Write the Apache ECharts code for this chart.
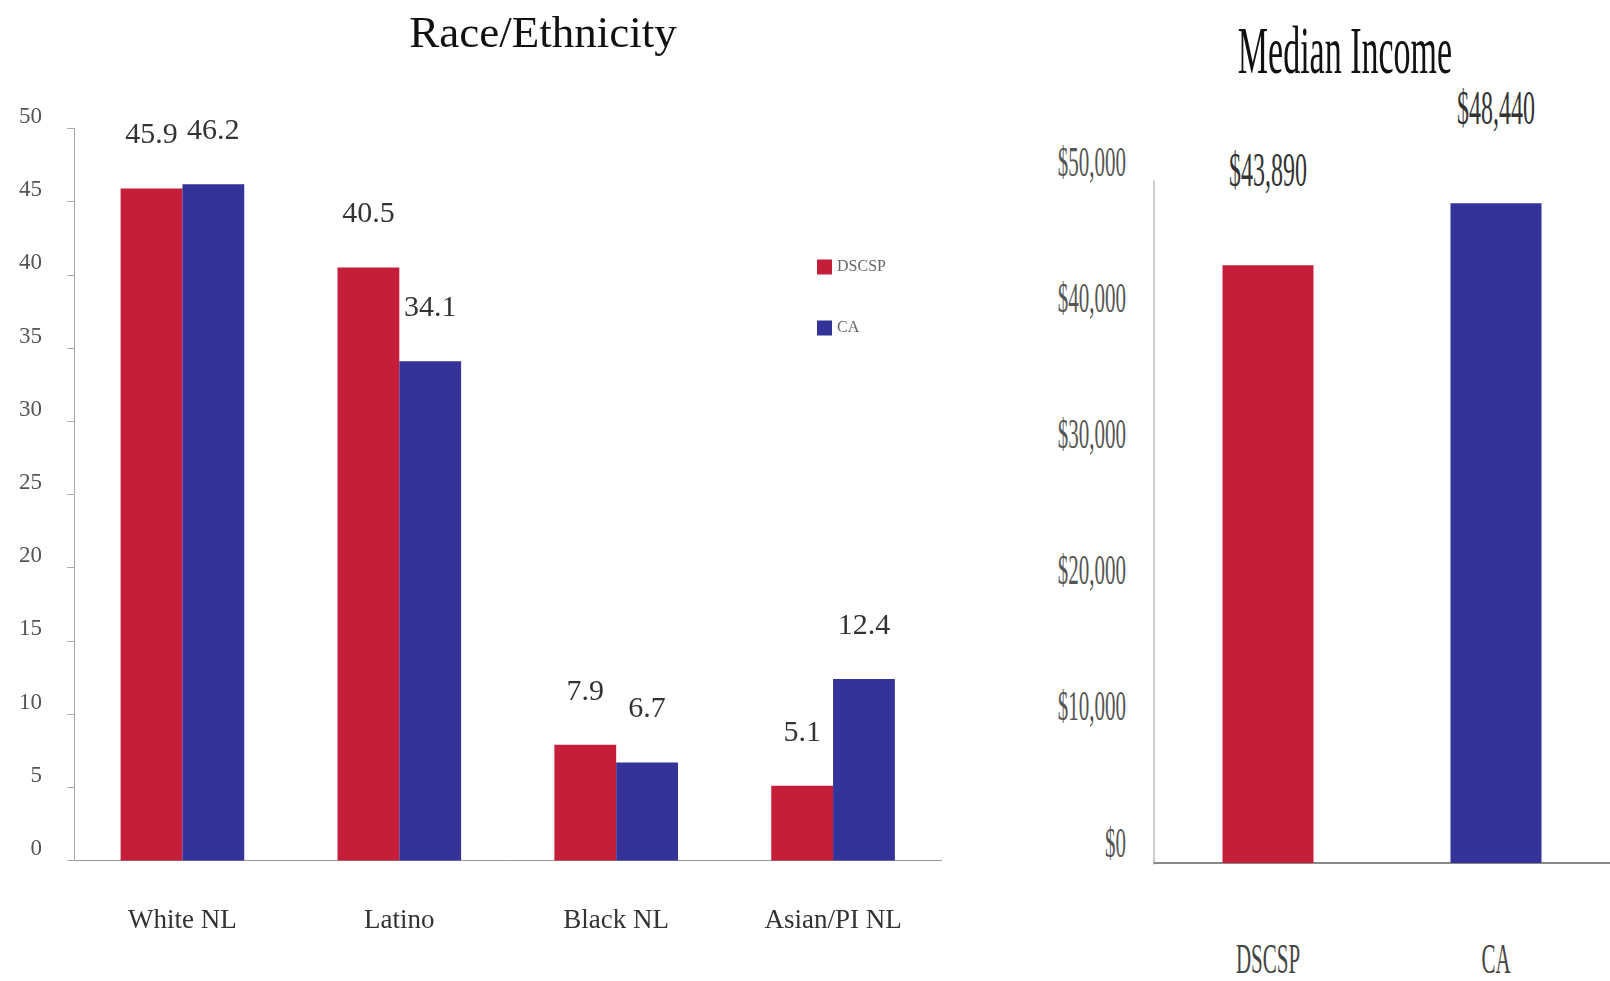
<!DOCTYPE html>
<html>
<head>
    <meta charset="UTF-8">
    <title>Race/Ethnicity and Median Income</title>
    <script src="https://cdn.jsdelivr.net/npm/echarts@6/dist/echarts.min.js"></script>
    <style>
        body { margin: 0; background: #fff; }
        #race { position: absolute; left: 0; top: 0; width: 1000px; height: 981px; }
        /* income chart is drawn squashed then stretched, to get the tall condensed lettering */
        #income { position: absolute; left: 1000px; top: 0; width: 610px; height: 490.5px;
                  transform: scaleY(2); transform-origin: 0 0; }
    </style>
</head>
<body>
<div id="race"></div>
<div id="income"></div>
<script type="text/javascript">
    var raceCategories = ['White NL', 'Latino', 'Black NL', 'Asian/PI NL'];
    var dscspRace = [45.9, 40.5, 7.9, 5.1];
    var caRace = [46.2, 34.1, 6.7, 12.4];

    var incomeCategories = ['DSCSP', 'CA'];
    var incomeValues = [43890, 48440];

    var RED = '#C41E3A';
    var BLUE = '#333399';
    var SERIF = '"Liberation Serif", "DejaVu Serif", serif';

    function money(v) {
        return '$' + Number(v).toLocaleString('en-US');
    }

    // 左图：族裔
    var raceChart = echarts.init(document.getElementById('race'));
    raceChart.setOption({
        animation: false,
        title: {
            text: 'Race/Ethnicity',
            left: 538,
            top: 8,
            textAlign: 'center',
            textStyle: { fontFamily: SERIF, fontSize: 45, fontWeight: 'normal', color: '#111' }
        },
        legend: {
            data: ['DSCSP', 'CA'],
            orient: 'vertical',
            left: 812,
            top: 254,
            itemWidth: 15,
            itemHeight: 15,
            itemGap: 45,
            icon: 'rect',
            textStyle: { fontFamily: SERIF, fontSize: 16, color: '#666', padding: [0, 0, 10, 0] }
        },
        grid: { left: 74, right: 58.5, top: 128.5, bottom: 120.5, containLabel: false },
        xAxis: {
            type: 'category',
            data: raceCategories,
            axisLine: { lineStyle: { color: '#999', width: 1 } },
            axisTick: { length: 10, lineStyle: { color: '#999' } },
            axisLabel: { fontFamily: SERIF, fontSize: 27, color: '#333', margin: 47 }
        },
        yAxis: {
            type: 'value',
            min: 0,
            max: 50,
            interval: 5,
            splitLine: { show: false },
            axisLine: { show: true, lineStyle: { color: '#aaa' } },
            axisTick: { show: true, length: 7, lineStyle: { color: '#aaa' } },
            axisLabel: { fontFamily: SERIF, fontSize: 23, color: '#555', margin: 32, verticalAlign: 'bottom' }
        },
        series: [
            {
                name: 'DSCSP',
                type: 'bar',
                data: dscspRace,
                barGap: 0,
                barCategoryGap: '43%',
                itemStyle: { color: RED },
                label: { show: true, position: 'top', distance: 38, fontFamily: SERIF, fontSize: 30, color: '#333' }
            },
            {
                name: 'CA',
                type: 'bar',
                data: caRace,
                itemStyle: { color: BLUE },
                label: { show: true, position: 'top', distance: 38, fontFamily: SERIF, fontSize: 30, color: '#333' }
            }
        ]
    });

    // 右图：收入中位数
    var incomeColors = [RED, BLUE];
    var incomeChart = echarts.init(document.getElementById('income'), null, { renderer: 'svg' });
    incomeChart.setOption({
        animation: false,
        title: {
            text: 'Median Income',
            left: 340,
            top: 3,
            textAlign: 'center',
            textStyle: { fontFamily: SERIF, fontSize: 34, fontWeight: 'normal', color: '#111' }
        },
        grid: { left: 154, right: -8, top: 91, bottom: 59.5, containLabel: false },
        xAxis: {
            type: 'category',
            data: incomeCategories,
            axisLine: { lineStyle: { color: '#888', width: 1 } },
            axisTick: { show: false },
            axisLabel: { fontFamily: SERIF, fontSize: 21, color: '#444', margin: 37 }
        },
        yAxis: {
            type: 'value',
            min: 0,
            max: 50000,
            interval: 10000,
            splitLine: { show: false },
            axisLine: { show: true, lineStyle: { color: '#ccc', width: 2 } },
            axisTick: { show: false },
            axisLabel: {
                fontFamily: SERIF, fontSize: 21, color: '#555', margin: 28, verticalAlign: 'bottom',
                formatter: money
            }
        },
        series: [
            {
                type: 'bar',
                data: incomeValues,
                barWidth: 91,
                itemStyle: {
                    color: function (p) { return incomeColors[p.dataIndex]; }
                },
                label: {
                    show: true, position: 'top', distance: 36,
                    fontFamily: SERIF, fontSize: 24, color: '#333',
                    formatter: function (p) { return money(p.value); }
                }
            }
        ]
    });
</script>
</body>
</html>
